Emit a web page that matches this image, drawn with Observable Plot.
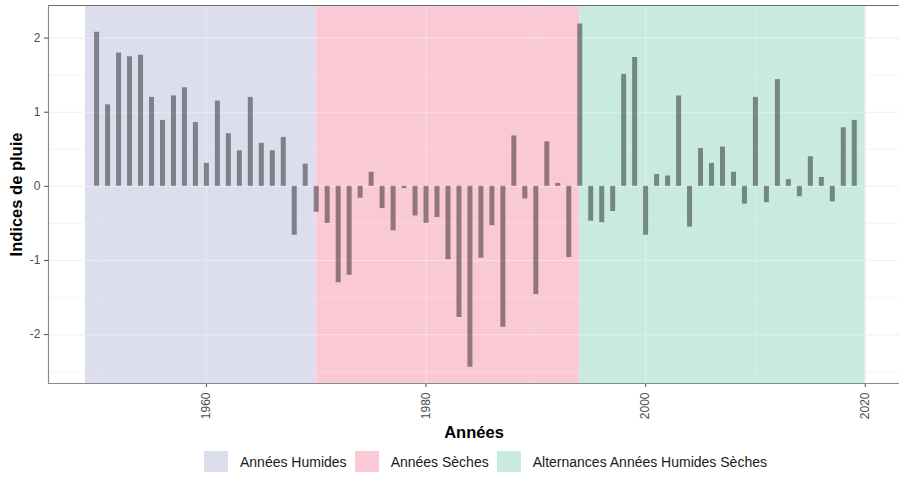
<!DOCTYPE html>
<html><head><meta charset="utf-8">
<script src="https://cdn.jsdelivr.net/npm/d3@7"></script>
<script src="https://cdn.jsdelivr.net/npm/@observablehq/plot@0.6"></script>
<style>
body{margin:0;background:#fff;font-family:"Liberation Sans",Arial,sans-serif;}
#chart{position:absolute;top:0;left:0;}
#legend{position:absolute;top:451px;left:204px;display:flex;align-items:center;font-size:14px;color:#1a1a1a;font-family:"Liberation Sans",Arial,sans-serif;}
.item{display:flex;align-items:center;margin-right:8px;}
.sw{width:24px;height:21px;margin-right:12px;}
</style></head><body>
<div id="chart"></div><div id="legend"></div>
<script>
const years = [1950,1951,1952,1953,1954,1955,1956,1957,1958,1959,
  1960,1961,1962,1963,1964,1965,1966,1967,1968,1969,
  1970,1971,1972,1973,1974,1975,1976,1977,1978,1979,
  1980,1981,1982,1983,1984,1985,1986,1987,1988,1989,
  1990,1991,1992,1993,1994,1995,1996,1997,1998,1999,
  2000,2001,2002,2003,2004,2005,2006,2007,2008,2009,
  2010,2011,2012,2013,2014,2015,2016,2017,2018,2019];
const values = [2.08,1.10,1.80,1.75,1.77,1.20,0.89,1.22,1.33,0.86,
  0.31,1.15,0.71,0.48,1.20,0.58,0.48,0.66,-0.66,0.30,
  -0.35,-0.50,-1.30,-1.20,-0.16,0.19,-0.30,-0.60,-0.03,-0.40,
  -0.50,-0.42,-0.99,-1.77,-2.44,-0.97,-0.53,-1.90,0.68,-0.17,
  -1.46,0.60,0.04,-0.96,2.19,-0.47,-0.49,-0.34,1.51,1.74,
  -0.66,0.16,0.14,1.22,-0.55,0.51,0.31,0.53,0.19,-0.24,
  1.20,-0.22,1.44,0.09,-0.14,0.40,0.12,-0.21,0.79,0.89];
const periodLabels = ["Années Humides","Années Sèches","Alternances Années Humides Sèches"];
const periodStart = [1949,1970,1994];
const periodEnd = [1970,1994,2020];
const periodColors = ["#dcdded","#fac9d6","#c8eae1"];
const yTicks = [-2,-1,0,1,2];
const yMinor = [-2.5,-1.5,-0.5,0.5,1.5];
const xTicks = [1960,1980,2000,2020];
const xMinor = [1950,1970,1990,2010];
const xTitle = "Années";
const yTitle = "Indices de pluie";

const data = years.map((y,i)=>({year:y, value:values[i]}));
const periods = periodLabels.map((l,i)=>({label:l,start:periodStart[i],end:periodEnd[i],color:periodColors[i]}));
const xDom = [1945.62, 2023.12];
const yDom = [-2.66, 2.44];

const plot = Plot.plot({
  width: 899, height: 445,
  marginLeft: 48, marginRight: 0, marginTop: 5, marginBottom: 62,
  style: {fontFamily: "Liberation Sans, Arial, sans-serif", fontSize: "12px", color: "#4d4d4d", background: "#fff"},
  x: {domain: xDom, ticks: xTicks, tickFormat: d => String(d), tickRotate: -90, tickSize: 4, tickPadding: 5, label: null},
  y: {domain: yDom, ticks: yTicks, tickFormat: d => String(d), tickSize: 4, tickPadding: 4, label: null},
  marks: [
    Plot.ruleY(yMinor, {stroke: "#ebebeb", strokeWidth: 0.6}),
    Plot.ruleY(yTicks, {stroke: "#ebebeb", strokeWidth: 1.1}),
    Plot.ruleX(xMinor, {stroke: "#ebebeb", strokeWidth: 0.6}),
    Plot.ruleX(xTicks, {stroke: "#ebebeb", strokeWidth: 1.1}),
    Plot.rect(periods, {x1: "start", x2: "end", fill: "color"}),
    Plot.ruleY(yMinor, {stroke: "#ffffff", strokeOpacity: 0.3, strokeWidth: 0.6}),
    Plot.ruleY(yTicks, {stroke: "#ffffff", strokeOpacity: 0.35, strokeWidth: 1.1}),
    Plot.ruleX(xMinor, {stroke: "#ffffff", strokeOpacity: 0.3, strokeWidth: 0.6}),
    Plot.ruleX(xTicks, {stroke: "#ffffff", strokeOpacity: 0.35, strokeWidth: 1.1}),
    Plot.ruleX(data, {x: "year", y1: 0, y2: "value", stroke: "#000", strokeOpacity: 0.42, strokeWidth: 5}),
    Plot.ruleY([yDom[1]], {stroke: "#6e6e6e", strokeWidth: 1.2}),
    Plot.ruleY([yDom[0]], {stroke: "#8a8a8a", strokeWidth: 1.2}),
    Plot.ruleX([xDom[0]], {stroke: "#8a8a8a", strokeWidth: 1.2}),
    Plot.text([xTitle], {frameAnchor: "bottom", dy: 54, text: d => d, fill: "#000", fontWeight: "bold", fontSize: 16.5}),
    Plot.text([yTitle], {frameAnchor: "left", dx: -32, rotate: -90, textAnchor: "middle", text: d => d, fill: "#000", fontWeight: "bold", fontSize: 16.5})
  ]
});
document.getElementById("chart").appendChild(plot);

const leg = document.getElementById("legend");
periods.forEach(p => {
  const it = document.createElement("div"); it.className = "item";
  const sw = document.createElement("div"); sw.className = "sw"; sw.style.background = p.color;
  const tx = document.createElement("span"); tx.textContent = p.label;
  it.appendChild(sw); it.appendChild(tx); leg.appendChild(it);
});
</script>
</body></html>
